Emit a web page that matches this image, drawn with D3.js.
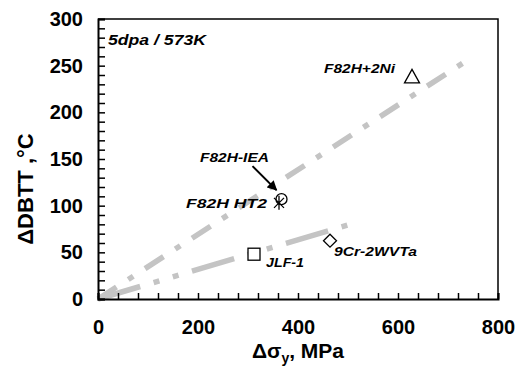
<!DOCTYPE html>
<html><head><meta charset="utf-8">
<script src="https://cdn.jsdelivr.net/npm/d3@7/dist/d3.min.js"></script>
<style>
html,body{margin:0;padding:0;background:#fff;}
svg{display:block;font-family:"Liberation Sans",Arial,sans-serif;}
</style></head>
<body>
<svg id="chart" width="522" height="376"></svg>
<script>
// ---- data ----
const materials = ["F82H+2Ni","F82H-IEA","F82H HT2","JLF-1","9Cr-2WVTa"];
const dSigma   = [628, 367, 362, 312, 464];   // Δσy, MPa
const dDBTT    = [238, 107, 103, 48, 62.5];   // ΔDBTT, °C
const markers  = ["triangle","circle","asterisk","square","diamond"];
const upperFitX = [0, 742], upperFitY = [0, 257];
const lowerFitX = [0, 520], lowerFitY = [0, 82.5];
const xTicks = [0, 200, 400, 600, 800];
const yTicks = [0, 50, 100, 150, 200, 250, 300];
const conditionLabel = "5dpa / 573K";

// ---- layout ----
const svg = d3.select("#chart");
const x = d3.scaleLinear().domain([0, 800]).range([98, 498]);
const y = d3.scaleLinear().domain([0, 300]).range([299, 19]);

// frame (top/right)
svg.append("path")
  .attr("d", `M${x(0)},${y(300)}H${x(800)}V${y(0)}`)
  .attr("fill","none").attr("stroke","#000").attr("stroke-width",1.5);

// fit lines
const line = d3.line().x(d=>x(d[0])).y(d=>y(d[1]));
svg.append("path").datum(d3.zip(upperFitX, upperFitY))
  .attr("d", line).attr("fill","none").attr("stroke","#c4c4c4")
  .attr("stroke-width",5.5).attr("stroke-dasharray","22,14,6,14");
svg.append("path").datum(d3.zip(lowerFitX, lowerFitY))
  .attr("d", line).attr("fill","none").attr("stroke","#c4c4c4")
  .attr("stroke-width",5.5).attr("stroke-dasharray","44,14,6,14,6,14");

// axes - minor ticks
const gx = svg.append("g").attr("transform",`translate(0,${y(0)})`)
  .call(d3.axisBottom(x).tickValues(d3.range(0,801,40)).tickSize(-6).tickFormat(""));
const gy = svg.append("g").attr("transform",`translate(${x(0)},0)`)
  .call(d3.axisLeft(y).tickValues(d3.range(0,301,10)).tickSize(-7).tickFormat(""));
[gx,gy].forEach(g=>{
  g.select(".domain").attr("stroke","#000").attr("stroke-width",2);
  g.selectAll(".tick line").attr("stroke","#000").attr("stroke-width",1.5);
});
// axis labels
const gxl = svg.append("g").attr("transform",`translate(0,${y(0)})`)
  .call(d3.axisBottom(x).tickValues(xTicks).tickSize(0).tickPadding(21).tickFormat(d3.format("d")));
const gyl = svg.append("g").attr("transform",`translate(${x(0)},0)`)
  .call(d3.axisLeft(y).tickValues(yTicks).tickSize(0).tickPadding(15).tickFormat(d3.format("d")));
[gxl,gyl].forEach(g=>{
  g.select(".domain").remove();
  g.selectAll("text").attr("font-size",20).attr("font-weight","bold")
    .attr("fill","#000").attr("font-family","Liberation Sans, Arial, sans-serif");
});

// axis titles
svg.append("text")
  .attr("transform",`translate(33,189) rotate(-90)`)
  .attr("text-anchor","middle").attr("font-size",22).attr("font-weight","bold")
  .text("ΔDBTT ,°C");
const xt = svg.append("text").attr("x",298).attr("y",358)
  .attr("text-anchor","middle").attr("font-size",21).attr("font-weight","bold");
xt.append("tspan").text("Δσ");
xt.append("tspan").attr("font-size",14).attr("dy",5).text("y");
xt.append("tspan").attr("dy",-5).text(", MPa");

// condition label
svg.append("text").attr("x",108).attr("y",45)
  .attr("font-size",15).attr("font-weight","bold").attr("font-style","italic")
  .attr("textLength",98).attr("lengthAdjust","spacingAndGlyphs")
  .text(conditionLabel);

// markers
const pts = d3.zip(dSigma, dDBTT, markers);
const mg = svg.append("g").attr("fill","#fff").attr("stroke","#000").attr("stroke-width",1.3);
pts.forEach(([sx, dy, m])=>{
  const cx = x(sx), cy = y(dy);
  if (m==="triangle") {
    mg.append("path").attr("d", `M${cx},${cy-7.5}L${cx+7.5},${cy+6}L${cx-7.5},${cy+6}Z`);
  } else if (m==="circle") {
    mg.append("circle").attr("cx",cx).attr("cy",cy).attr("r",5.5).attr("fill","none");
  } else if (m==="asterisk") {
    mg.append("path").attr("fill","none")
      .attr("d", `M${cx},${cy-7}V${cy+7}M${cx-5},${cy-5}L${cx+5},${cy+5}M${cx+5},${cy-5}L${cx-5},${cy+5}`);
  } else if (m==="square") {
    mg.append("rect").attr("x",cx-6).attr("y",cy-6).attr("width",12).attr("height",12);
  } else if (m==="diamond") {
    mg.append("path").attr("d", `M${cx},${cy-6.5}L${cx+6.5},${cy}L${cx},${cy+6.5}L${cx-6.5},${cy}Z`);
  }
});

// data labels (offsets relative to each point)
const labelOffsets = [
  {dx:-17, dy:-4, anchor:"end",   len:71},
  {dx:-47, dy:-37, anchor:"middle",len:69},
  {dx:-12, dy:5,  anchor:"end",   len:81},
  {dx:12,  dy:13, anchor:"start", len:38},
  {dx:4,   dy:15, anchor:"start", len:83}
];
materials.forEach((name,i)=>{
  const o = labelOffsets[i];
  svg.append("text").attr("x", x(dSigma[i])+o.dx).attr("y", y(dDBTT[i])+o.dy)
    .attr("text-anchor", o.anchor).attr("font-size",13).attr("font-weight","bold")
    .attr("font-style","italic").attr("textLength",o.len).attr("lengthAdjust","spacingAndGlyphs")
    .text(name);
});

// arrow for F82H-IEA
svg.append("defs").append("marker").attr("id","ah").attr("viewBox","0 0 10 10")
  .attr("refX",9).attr("refY",5).attr("markerWidth",5).attr("markerHeight",5)
  .attr("orient","auto").append("path").attr("d","M0,0L10,5L0,10Z").attr("fill","#000");
const ax0 = x(dSigma[1]) - 29, ay0 = y(dDBTT[1]) - 33;
svg.append("line").attr("x1",ax0).attr("y1",ay0)
  .attr("x2",x(dSigma[1])-5).attr("y2",y(dDBTT[1])-9)
  .attr("stroke","#000").attr("stroke-width",2).attr("marker-end","url(#ah)");
</script>
</body></html>
